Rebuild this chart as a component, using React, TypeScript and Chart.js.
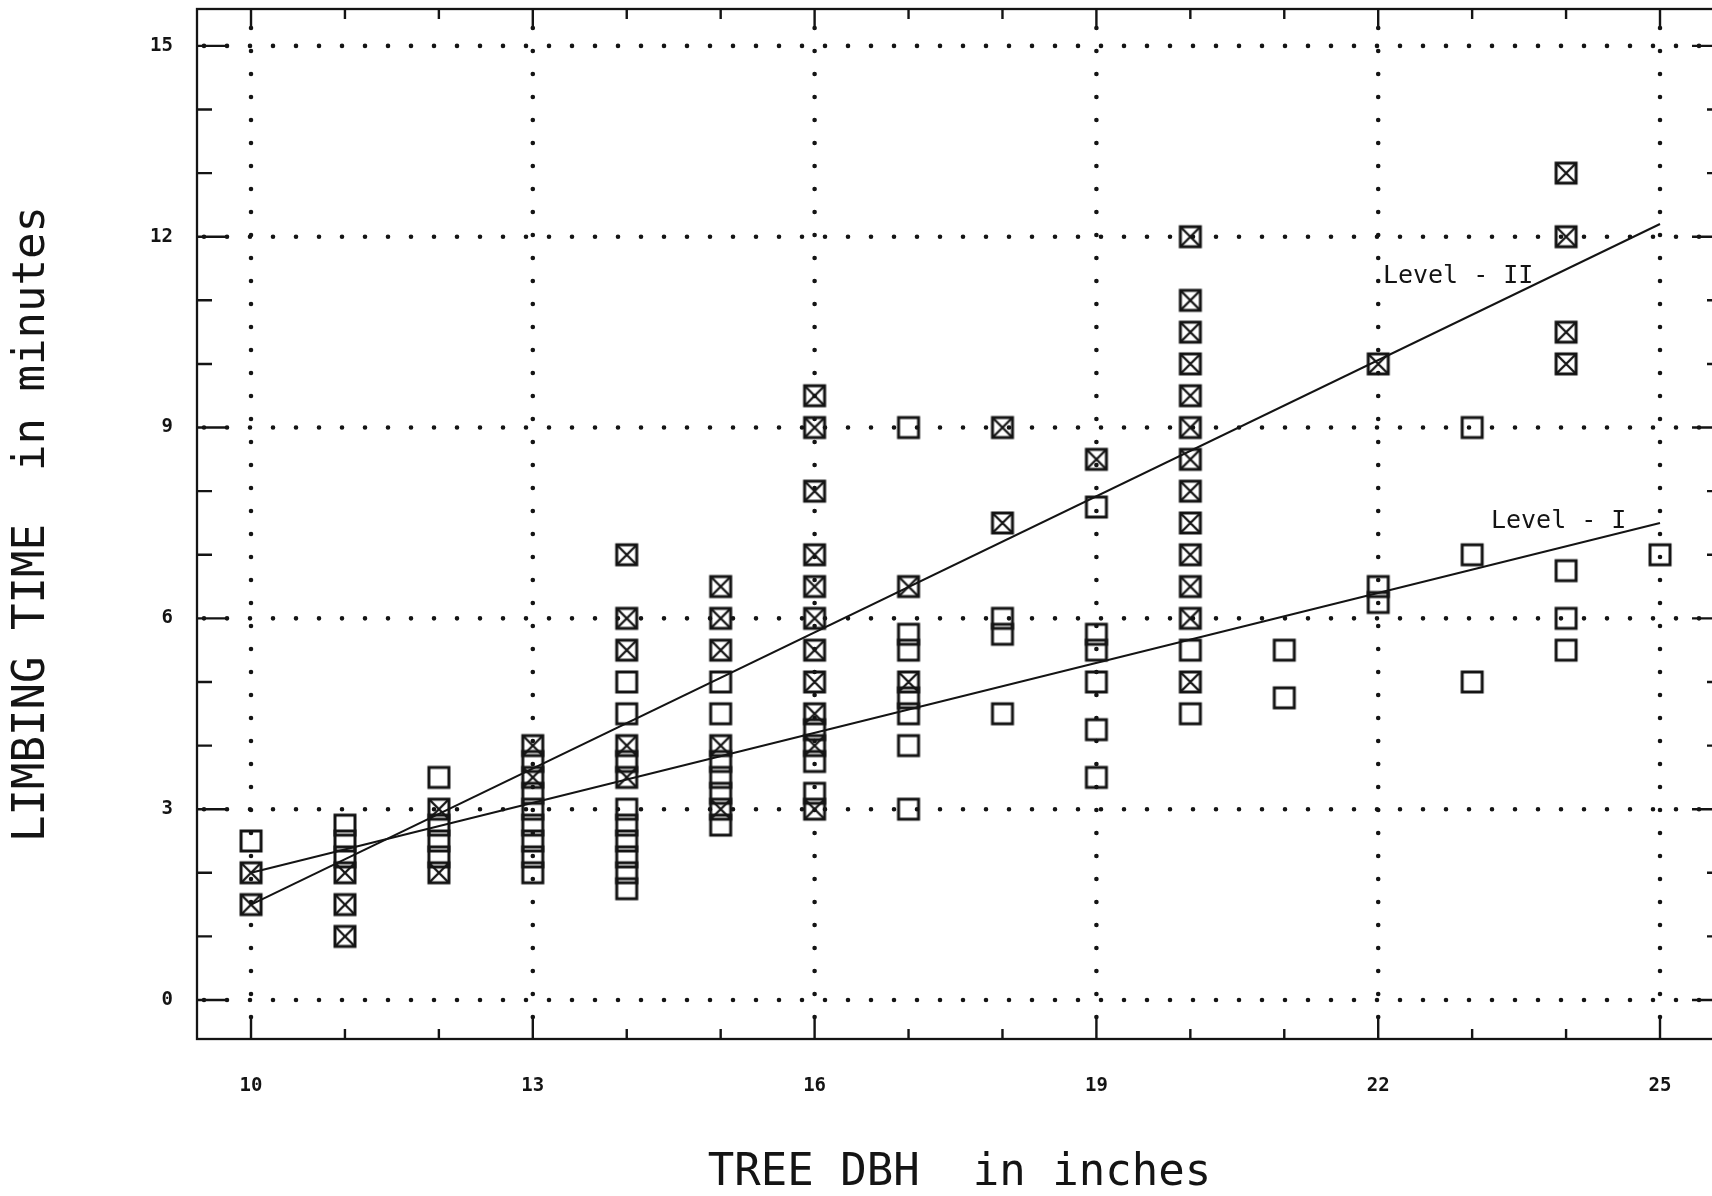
import React, { useEffect, useRef } from "react";
import { Chart, registerables } from "chart.js";

Chart.register(...registerables);

// Tree diameter classes (inches) on the horizontal axis
const dbhClasses = [10, 11, 12, 13, 14, 15, 16, 17, 18, 19, 20, 21, 22, 23, 24, 25];

// Observed limbing times (minutes) per diameter class, Level I crews (open squares)
const levelITimes: number[][] = [
  [2.5],
  [2.75, 2.5, 2.25],
  [3.5, 2.75, 2.5, 2.25],
  [3.75, 3.25, 3.0, 2.75, 2.5, 2.25, 2.0],
  [5.0, 4.5, 3.75, 3.0, 2.75, 2.5, 2.25, 2.0, 1.75],
  [5.0, 4.5, 3.75, 3.5, 3.25, 2.75],
  [4.25, 3.75, 3.25],
  [9.0, 5.75, 5.5, 4.75, 4.5, 4.0, 3.0],
  [6.0, 5.75, 4.5],
  [7.75, 5.75, 5.5, 5.0, 4.25, 3.5],
  [5.5, 4.5],
  [5.5, 4.75],
  [6.5, 6.25],
  [9.0, 7.0, 5.0],
  [6.75, 6.0, 5.5],
  [7.0],
];

// Observed limbing times (minutes) per diameter class, Level II crews (crossed squares)
const levelIITimes: number[][] = [
  [2.0, 1.5],
  [2.0, 1.5, 1.0],
  [3.0, 2.0],
  [4.0, 3.5],
  [7.0, 6.0, 5.5, 4.0, 3.5],
  [6.5, 6.0, 5.5, 4.0, 3.0],
  [9.5, 9.0, 8.0, 7.0, 6.5, 6.0, 5.5, 5.0, 4.5, 4.0, 3.0],
  [6.5, 5.0],
  [9.0, 7.5],
  [8.5],
  [12.0, 11.0, 10.5, 10.0, 9.5, 9.0, 8.5, 8.0, 7.5, 7.0, 6.5, 6.0, 5.0],
  [],
  [10.0],
  [],
  [13.0, 12.0, 10.5, 10.0],
  [],
];

// Fitted regression lines (end points)
const fitDbh = [10, 25];
const levelIFit = [2.0, 7.5];
const levelIIFit = [1.5, 12.2];

// Axis ticks
const xMajorTicks = [10, 13, 16, 19, 22, 25];
const xMinorTicks = [10, 11, 12, 13, 14, 15, 16, 17, 18, 19, 20, 21, 22, 23, 24, 25];
const yMajorTicks = [0, 3, 6, 9, 12, 15];
const yMinorTicks = [0, 1, 2, 3, 4, 5, 6, 7, 8, 9, 10, 11, 12, 13, 14, 15];

// Line labels
const lineLabels = ["Level - II", "Level - I"];

const INK = "#141414";
const CANVAS_W = 1740;
const CANVAS_H = 1196;

// Label anchors in data units (left edge, vertical middle)
const labelAnchors = [
  { x: 22.05, y: 11.38 },
  { x: 23.2, y: 7.53 },
];

function toPoints(times: number[][]) {
  const pts: { x: number; y: number }[] = [];
  times.forEach((col, i) => col.forEach((t) => pts.push({ x: dbhClasses[i], y: t })));
  return pts;
}

function makeMarker(crossed: boolean): HTMLCanvasElement {
  const size = 26;
  const c = document.createElement("canvas");
  c.width = size;
  c.height = size;
  const g = c.getContext("2d")!;
  const m = size / 2;
  const h = 10;
  g.strokeStyle = INK;
  g.lineWidth = 3;
  g.strokeRect(m - h, m - h, 2 * h, 2 * h);
  if (crossed) {
    g.lineWidth = 2.3;
    g.beginPath();
    g.moveTo(m - h, m - h);
    g.lineTo(m + h, m + h);
    g.moveTo(m + h, m - h);
    g.lineTo(m - h, m + h);
    g.stroke();
  }
  return c;
}

// Dotted grid, plot frame and inward tick marks on all four sides
const framePlugin = {
  id: "plotFrame",
  beforeDatasetsDraw(chart: any) {
    const { ctx, chartArea: a, scales } = chart;
    const xs = scales.x;
    const ys = scales.y;
    ctx.save();
    ctx.strokeStyle = INK;
    ctx.lineWidth = 4.6;
    ctx.lineCap = "round";
    ctx.setLineDash([0, 23]);
    for (const v of yMajorTicks) {
      const py = ys.getPixelForValue(v);
      ctx.beginPath();
      ctx.moveTo(a.left + 7, py);
      ctx.lineTo(a.right, py);
      ctx.stroke();
    }
    for (const v of xMajorTicks) {
      const px = xs.getPixelForValue(v);
      ctx.beginPath();
      ctx.moveTo(px, a.top + 19);
      ctx.lineTo(px, a.bottom);
      ctx.stroke();
    }
    ctx.setLineDash([]);
    ctx.lineCap = "butt";

    ctx.lineWidth = 2.3;
    ctx.strokeRect(a.left, a.top, a.right - a.left, a.bottom - a.top);

    ctx.lineWidth = 2.4;
    ctx.beginPath();
    for (const v of yMinorTicks) {
      const py = ys.getPixelForValue(v);
      const len = yMajorTicks.includes(v) ? 30 : 15;
      ctx.moveTo(a.left, py);
      ctx.lineTo(a.left + len, py);
      ctx.moveTo(a.right, py);
      ctx.lineTo(a.right - len, py);
    }
    for (const v of xMinorTicks) {
      const px = xs.getPixelForValue(v);
      const major = xMajorTicks.includes(v);
      ctx.moveTo(px, a.top);
      ctx.lineTo(px, a.top + (major ? 20 : 10));
      ctx.moveTo(px, a.bottom);
      ctx.lineTo(px, a.bottom - (major ? 22 : 10));
    }
    ctx.stroke();
    ctx.restore();
  },
  afterDatasetsDraw(chart: any) {
    const { ctx, scales } = chart;
    ctx.save();
    ctx.fillStyle = INK;
    ctx.font = "25px 'DejaVu Sans Mono'";
    ctx.textAlign = "left";
    ctx.textBaseline = "middle";
    lineLabels.forEach((t, i) => {
      const p = labelAnchors[i];
      ctx.fillText(t, scales.x.getPixelForValue(p.x), scales.y.getPixelForValue(p.y));
    });
    ctx.restore();
  },
};

// Keep the plot area fixed: no extra room reserved for half-height edge labels
const clearEdgePadding = (s: any) => {
  s.paddingTop = 0;
  s.paddingBottom = 0;
  s.paddingLeft = 0;
  s.paddingRight = 0;
};

export default function App() {
  const ref = useRef<HTMLCanvasElement | null>(null);

  useEffect(() => {
    if (!ref.current) return;
    const openSquare = makeMarker(false);
    const crossedSquare = makeMarker(true);
    const tickFont = { family: "'DejaVu Sans Mono', monospace", size: 19, weight: "bold" as const };
    const titleFont = { family: "'DejaVu Sans Mono', monospace", size: 44, lineHeight: 1 };

    const chart = new Chart(ref.current, {
      type: "scatter",
      data: {
        datasets: [
          {
            label: "Level II fit",
            data: fitDbh.map((x, i) => ({ x, y: levelIIFit[i] })),
            showLine: true,
            borderColor: INK,
            borderWidth: 2,
            pointRadius: 0,
            fill: false,
          },
          {
            label: "Level I fit",
            data: fitDbh.map((x, i) => ({ x, y: levelIFit[i] })),
            showLine: true,
            borderColor: INK,
            borderWidth: 2,
            pointRadius: 0,
            fill: false,
          },
          {
            label: "Level II",
            data: toPoints(levelIITimes),
            pointStyle: crossedSquare,
            pointRadius: 10,
          },
          {
            label: "Level I",
            data: toPoints(levelITimes),
            pointStyle: openSquare,
            pointRadius: 10,
          },
        ],
      },
      options: {
        animation: false,
        responsive: false,
        events: [],
        layout: {
          autoPadding: false,
          padding: { top: 9, right: CANVAS_W - 1722, left: 0, bottom: 0 },
        },
        plugins: {
          legend: { display: false },
          tooltip: { enabled: false },
        },
        scales: {
          x: {
            type: "linear",
            min: 9.425,
            max: 25.66,
            afterBuildTicks: (s: any) => {
              s.ticks = xMajorTicks.map((v) => ({ value: v }));
            },
            afterFit: (s: any) => {
              s.height = CANVAS_H - 1039;
              clearEdgePadding(s);
            },
            grid: { display: false, drawTicks: false },
            border: { display: false },
            ticks: {
              padding: 36,
              color: INK,
              font: tickFont,
              maxRotation: 0,
              autoSkip: false,
              callback: (v: any) => String(v),
            },
            title: {
              display: true,
              text: "TREE DBH  in inches",
              color: INK,
              font: titleFont,
              padding: 0,
            },
          },
          y: {
            type: "linear",
            min: -0.613,
            max: 15.58,
            afterBuildTicks: (s: any) => {
              s.ticks = yMajorTicks.map((v) => ({ value: v }));
            },
            afterFit: (s: any) => {
              s.width = 197;
              clearEdgePadding(s);
            },
            grid: { display: false, drawTicks: false },
            border: { display: false },
            ticks: {
              padding: 24,
              color: INK,
              font: tickFont,
              autoSkip: false,
              callback: (v: any) => String(v),
            },
            title: {
              display: true,
              text: "LIMBING TIME  in minutes",
              color: INK,
              font: titleFont,
              padding: { top: 11, bottom: 0 },
            },
          },
        },
      },
      plugins: [framePlugin],
    });
    return () => chart.destroy();
  }, []);

  return (
    <div
      style={{
        position: "fixed",
        left: 0,
        top: 0,
        width: 1712,
        height: 1196,
        overflow: "hidden",
        background: "#fff",
      }}
    >
      <canvas
        ref={ref}
        width={CANVAS_W}
        height={CANVAS_H}
        style={{ display: "block", width: CANVAS_W, height: CANVAS_H }}
      />
    </div>
  );
}
